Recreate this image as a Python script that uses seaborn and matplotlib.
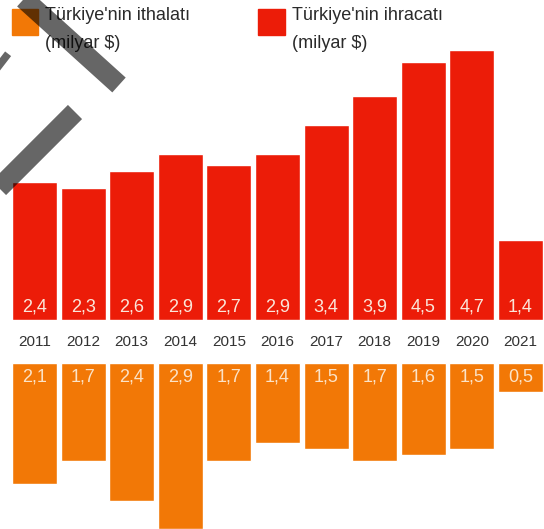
import pandas as pd
import matplotlib
matplotlib.use('Agg')
import matplotlib.pyplot as plt
from matplotlib.lines import Line2D
import seaborn as sns

years = ['2011', '2012', '2013', '2014', '2015', '2016', '2017', '2018', '2019', '2020', '2021']
ihracat = [2.4, 2.3, 2.6, 2.9, 2.7, 2.9, 3.4, 3.9, 4.5, 4.7, 1.4]
ithalat = [2.1, 1.7, 2.4, 2.9, 1.7, 1.4, 1.5, 1.7, 1.6, 1.5, 0.5]
ihracat_labels = ['2,4', '2,3', '2,6', '2,9', '2,7', '2,9', '3,4', '3,9', '4,5', '4,7', '1,4']
ithalat_labels = ['2,1', '1,7', '2,4', '2,9', '1,7', '1,4', '1,5', '1,7', '1,6', '1,5', '0,5']

kirmizi = '#EC1C08'
turuncu = '#F27806'

df = pd.DataFrame({'Yil': years, 'Ihracat': ihracat, 'Ithalat': ithalat})

sns.set_style('white')
plt.rcParams['font.family'] = ['Liberation Sans', 'DejaVu Sans']

W, H = 544, 529
fig = plt.figure(figsize=(W / 100, H / 100), dpi=100)

# px -> figure fraction helpers
def fx(px):
    return px / W

def fy(py):
    return 1 - py / H

step = 48.6
x0 = 34.5
xlim = (-x0 / step, (W - x0) / step)
scale = 57.4  # px per milyar $

# exports (top)
ax1 = fig.add_axes([0, fy(320), 1, 320 / H])
sns.barplot(data=df, x='Yil', y='Ihracat', color=kirmizi, saturation=1, width=0.926, ax=ax1)
ax1.set_xlim(xlim)
ax1.set_ylim(0, 320 / scale)
for i, lab in enumerate(ihracat_labels):
    ax1.text(i, 0.23, lab, ha='center', va='center', color='#FBE6DA', fontsize=13)

# imports (bottom, hanging down)
ax2 = fig.add_axes([0, 0, 1, (H - 363) / H])
sns.barplot(data=df, x='Yil', y='Ithalat', color=turuncu, saturation=1, width=0.926, ax=ax2)
ax2.set_xlim(xlim)
ax2.set_ylim((H - 363) / scale, 0)
for i, lab in enumerate(ithalat_labels):
    ax2.text(i, 0.25, lab, ha='center', va='center', color='#FBE3C8', fontsize=13)

for ax in (ax1, ax2):
    ax.axis('off')

# year labels between the two rows
for i, y in enumerate(years):
    fig.text(fx(x0 + step * i), fy(342), y, ha='center', va='center', color='#333333', fontsize=11)

# legend
fig.patches.append(plt.Rectangle((fx(12), fy(35)), 26 / W, 26 / H, color=turuncu,
                                 transform=fig.transFigure, figure=fig))
fig.patches.append(plt.Rectangle((fx(258), fy(35)), 27 / W, 26 / H, color=kirmizi,
                                 transform=fig.transFigure, figure=fig))
fig.text(fx(45), fy(16), "Türkiye'nin ithalatı", ha='left', va='center', color='#2A2A2A', fontsize=13)
fig.text(fx(45), fy(44), '(milyar $)', ha='left', va='center', color='#2A2A2A', fontsize=13)
fig.text(fx(292), fy(16), "Türkiye'nin ihracatı", ha='left', va='center', color='#2A2A2A', fontsize=13)
fig.text(fx(292), fy(44), '(milyar $)', ha='left', va='center', color='#2A2A2A', fontsize=13)

# gray diagonal stripes over the top-left corner
stripes = [
    ((5, -18), (119, 85)),
    ((-30, 37), (5, 64)),
    ((75, 112), (-20, 207)),
]
for (xa, ya), (xb, yb) in stripes:
    fig.add_artist(Line2D([fx(xa), fx(xb)], [fy(ya), fy(yb)], transform=fig.transFigure,
                          color='black', alpha=0.6, linewidth=14.4, solid_capstyle='butt', zorder=10))

fig.savefig('out.png', dpi=100)
